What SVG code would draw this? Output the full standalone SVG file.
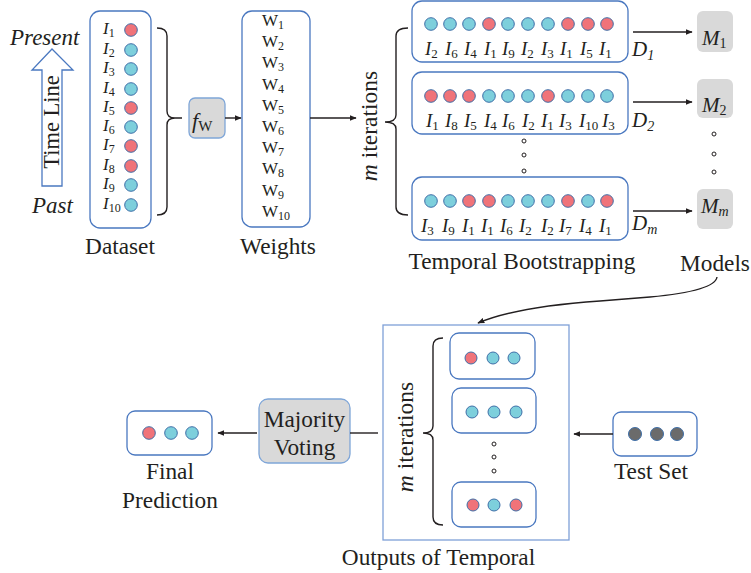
<svg xmlns="http://www.w3.org/2000/svg" width="751" height="573" viewBox="0 0 751 573">
<style>
text{font-family:"Liberation Serif","Times New Roman",serif;fill:#231F20}
.lbl{font-size:23.3px}
.it{font-style:italic}
.box{fill:#fff;stroke:#4A78C0;stroke-width:1.3}
.gbox{fill:#D9D9D9;stroke:#7FA6D8;stroke-width:1.3}
.mbox{fill:#D9D9D9;stroke:none}
.r{fill:#F07379;stroke:#3F6FA8;stroke-width:1}
.c{fill:#7DCFDC;stroke:#3F6FA8;stroke-width:1}
.g{fill:#6B6B6B;stroke:#3F6FA8;stroke-width:1}
.dot{fill:#fff;stroke:#231F20;stroke-width:1}
.ln{fill:none;stroke:#231F20;stroke-width:1.4}
.il{font-size:17px;font-style:italic}
.rl{font-size:19px;font-style:italic}
.dl{font-size:21px;font-style:italic}
.sub{font-size:12px;font-style:normal}
.sub2{font-size:13px;font-style:normal}
.subi{font-size:14px;font-style:italic}
.subn{font-size:14px;font-style:normal}
</style>
<defs>
<marker id="ah" viewBox="0 0 10 10" refX="9" refY="5" markerWidth="7" markerHeight="7" orient="auto" markerUnits="userSpaceOnUse">
<path d="M0,1 L10,5 L0,9 Z" fill="#231F20"/>
</marker>
</defs>

<g id="timeline">
<path d="M42,186 L42,70 L32,70 L52,49 L73,70 L62,70 L62,186 Z" fill="#fff" stroke="#4A78C0" stroke-width="1.3"/>
<text transform="translate(59,122) rotate(-90)" font-size="22.5" text-anchor="middle">Time Line</text>
<text class="it" x="10" y="45" font-size="23">Present</text>
<text class="it" x="32" y="213" font-size="23">Past</text>
</g>

<g id="dataset">
<rect class="box" x="90" y="11" width="61" height="217" rx="10"/>
<circle class="r" cx="131" cy="30" r="6.3"/>
<circle class="c" cx="131" cy="50" r="6.3"/>
<circle class="c" cx="131" cy="69" r="6.3"/>
<circle class="c" cx="131" cy="89" r="6.3"/>
<circle class="r" cx="131" cy="108" r="6.3"/>
<circle class="c" cx="131" cy="127" r="6.3"/>
<circle class="r" cx="131" cy="146" r="6.3"/>
<circle class="r" cx="131" cy="166" r="6.3"/>
<circle class="c" cx="131" cy="185" r="6.3"/>
<circle class="c" cx="131" cy="205" r="6.3"/>
<text class="il" x="103" y="34">I<tspan class="sub" dy="3">1</tspan></text>
<text class="il" x="103" y="54">I<tspan class="sub" dy="3">2</tspan></text>
<text class="il" x="103" y="73">I<tspan class="sub" dy="3">3</tspan></text>
<text class="il" x="103" y="93">I<tspan class="sub" dy="3">4</tspan></text>
<text class="il" x="103" y="112">I<tspan class="sub" dy="3">5</tspan></text>
<text class="il" x="103" y="131">I<tspan class="sub" dy="3">6</tspan></text>
<text class="il" x="103" y="150">I<tspan class="sub" dy="3">7</tspan></text>
<text class="il" x="103" y="170">I<tspan class="sub" dy="3">8</tspan></text>
<text class="il" x="103" y="189">I<tspan class="sub" dy="3">9</tspan></text>
<text class="il" x="103" y="209">I<tspan class="sub" dy="3">10</tspan></text>
<text class="lbl" x="120" y="254" text-anchor="middle">Dataset</text>
</g>

<g id="fw">
<rect class="gbox" x="189" y="98" width="36" height="40" rx="6"/>
<text x="192" y="128" font-size="22" class="it">f<tspan font-size="15" style="font-style:normal" dy="3">W</tspan></text>
</g>

<g id="weights">
<rect class="box" x="242" y="11" width="68" height="216" rx="10"/>
<g font-size="17">
<text x="262" y="26">W<tspan class="sub" dy="3">1</tspan></text>
<text x="262" y="47">W<tspan class="sub" dy="3">2</tspan></text>
<text x="262" y="68">W<tspan class="sub" dy="3">3</tspan></text>
<text x="262" y="90">W<tspan class="sub" dy="3">4</tspan></text>
<text x="262" y="111">W<tspan class="sub" dy="3">5</tspan></text>
<text x="262" y="132">W<tspan class="sub" dy="3">6</tspan></text>
<text x="262" y="153">W<tspan class="sub" dy="3">7</tspan></text>
<text x="262" y="174">W<tspan class="sub" dy="3">8</tspan></text>
<text x="262" y="196">W<tspan class="sub" dy="3">9</tspan></text>
<text x="262" y="217">W<tspan class="sub" dy="3">10</tspan></text>
</g>
<text class="lbl" x="278" y="254" text-anchor="middle">Weights</text>
</g>

<g id="iter1">
<text transform="translate(377,126) rotate(-90)" font-size="23.5" text-anchor="middle"><tspan class="it">m</tspan> iterations</text>
</g>

<g id="boot1">
<rect class="box" x="412" y="1" width="216" height="61" rx="10"/>
<circle class="c" cx="431" cy="24" r="6.3"/><circle class="c" cx="450" cy="24" r="6.3"/><circle class="c" cx="469" cy="24" r="6.3"/><circle class="r" cx="489" cy="24" r="6.3"/><circle class="c" cx="508" cy="24" r="6.3"/><circle class="c" cx="528" cy="24" r="6.3"/><circle class="c" cx="548" cy="24" r="6.3"/><circle class="r" cx="568" cy="24" r="6.3"/><circle class="r" cx="588" cy="24" r="6.3"/><circle class="r" cx="607" cy="24" r="6.3"/>
<text class="rl" x="425" y="55">I<tspan class="sub2" dy="3">2</tspan></text>
<text class="rl" x="445" y="55">I<tspan class="sub2" dy="3">6</tspan></text>
<text class="rl" x="464" y="55">I<tspan class="sub2" dy="3">4</tspan></text>
<text class="rl" x="484" y="55">I<tspan class="sub2" dy="3">1</tspan></text>
<text class="rl" x="502" y="55">I<tspan class="sub2" dy="3">9</tspan></text>
<text class="rl" x="521" y="55">I<tspan class="sub2" dy="3">2</tspan></text>
<text class="rl" x="541" y="55">I<tspan class="sub2" dy="3">3</tspan></text>
<text class="rl" x="560" y="55">I<tspan class="sub2" dy="3">1</tspan></text>
<text class="rl" x="580" y="55">I<tspan class="sub2" dy="3">5</tspan></text>
<text class="rl" x="599" y="55">I<tspan class="sub2" dy="3">1</tspan></text>
<text class="dl" x="632" y="56">D<tspan class="subi" dy="4">1</tspan></text>
</g>

<g id="boot2">
<rect class="box" x="412" y="72" width="216" height="62" rx="10"/>
<circle class="r" cx="431" cy="96" r="6.3"/><circle class="r" cx="450" cy="96" r="6.3"/><circle class="r" cx="469" cy="96" r="6.3"/><circle class="c" cx="489" cy="96" r="6.3"/><circle class="c" cx="508" cy="96" r="6.3"/><circle class="c" cx="528" cy="96" r="6.3"/><circle class="r" cx="548" cy="96" r="6.3"/><circle class="c" cx="568" cy="96" r="6.3"/><circle class="c" cx="588" cy="96" r="6.3"/><circle class="c" cx="607" cy="96" r="6.3"/>
<text class="rl" x="426" y="127">I<tspan class="sub2" dy="3">1</tspan></text>
<text class="rl" x="445" y="127">I<tspan class="sub2" dy="3">8</tspan></text>
<text class="rl" x="464" y="127">I<tspan class="sub2" dy="3">5</tspan></text>
<text class="rl" x="484" y="127">I<tspan class="sub2" dy="3">4</tspan></text>
<text class="rl" x="502" y="127">I<tspan class="sub2" dy="3">6</tspan></text>
<text class="rl" x="522" y="127">I<tspan class="sub2" dy="3">2</tspan></text>
<text class="rl" x="541" y="127">I<tspan class="sub2" dy="3">1</tspan></text>
<text class="rl" x="559" y="127">I<tspan class="sub2" dy="3">3</tspan></text>
<text class="rl" x="579" y="127">I<tspan class="sub2" dy="3">10</tspan></text>
<text class="rl" x="602" y="127">I<tspan class="sub2" dy="3">3</tspan></text>
<text class="dl" x="632" y="127">D<tspan class="subi" dy="4">2</tspan></text>
</g>

<g id="bootdots">
<circle class="dot" cx="524" cy="141" r="2"/><circle class="dot" cx="524" cy="155" r="2"/><circle class="dot" cx="524" cy="171" r="2"/>
</g>

<g id="bootm">
<rect class="box" x="412" y="177" width="216" height="63" rx="10"/>
<circle class="c" cx="431" cy="201" r="6.3"/><circle class="c" cx="450" cy="201" r="6.3"/><circle class="r" cx="469" cy="201" r="6.3"/><circle class="r" cx="489" cy="201" r="6.3"/><circle class="c" cx="508" cy="201" r="6.3"/><circle class="c" cx="528" cy="201" r="6.3"/><circle class="c" cx="548" cy="201" r="6.3"/><circle class="r" cx="568" cy="201" r="6.3"/><circle class="c" cx="588" cy="201" r="6.3"/><circle class="r" cx="607" cy="201" r="6.3"/>
<text class="rl" x="421" y="232">I<tspan class="sub2" dy="3">3</tspan></text>
<text class="rl" x="442" y="232">I<tspan class="sub2" dy="3">9</tspan></text>
<text class="rl" x="462" y="232">I<tspan class="sub2" dy="3">1</tspan></text>
<text class="rl" x="481" y="232">I<tspan class="sub2" dy="3">1</tspan></text>
<text class="rl" x="500" y="232">I<tspan class="sub2" dy="3">6</tspan></text>
<text class="rl" x="519" y="232">I<tspan class="sub2" dy="3">2</tspan></text>
<text class="rl" x="541" y="232">I<tspan class="sub2" dy="3">2</tspan></text>
<text class="rl" x="559" y="232">I<tspan class="sub2" dy="3">7</tspan></text>
<text class="rl" x="579" y="232">I<tspan class="sub2" dy="3">4</tspan></text>
<text class="rl" x="599" y="232">I<tspan class="sub2" dy="3">1</tspan></text>
<text class="dl" x="632" y="230">D<tspan class="subi" dy="4">m</tspan></text>
<text class="lbl" x="522" y="269" text-anchor="middle">Temporal Bootstrapping</text>
</g>

<g id="m1">
<rect class="mbox" x="697" y="11" width="36" height="41" rx="6"/>
<text class="dl" x="702" y="45">M<tspan class="subn" dy="3">1</tspan></text>
</g>
<g id="m2">
<rect class="mbox" x="697" y="79" width="36" height="39" rx="6"/>
<text class="dl" x="702" y="112">M<tspan class="subn" dy="3">2</tspan></text>
</g>
<g id="mdots">
<circle class="dot" cx="714" cy="134" r="2"/><circle class="dot" cx="714" cy="154" r="2"/><circle class="dot" cx="714" cy="172" r="2"/>
</g>
<g id="mm">
<rect class="mbox" x="697" y="189" width="36" height="40" rx="6"/>
<text class="dl" x="701" y="213">M<tspan class="subi" dy="3">m</tspan></text>
<text class="lbl" x="715" y="271" text-anchor="middle">Models</text>
</g>

<g id="outputs">
<rect x="383" y="325" width="186" height="215" fill="#fff" stroke="#7FA0D8" stroke-width="1.3"/>
<text transform="translate(413,437) rotate(-90)" font-size="23.5" text-anchor="middle"><tspan class="it">m</tspan> iterations</text>
<rect class="box" x="450" y="333" width="85" height="46" rx="9"/>
<circle class="r" cx="471" cy="358" r="6"/><circle class="c" cx="493" cy="358" r="6"/><circle class="c" cx="514" cy="358" r="6"/>
<rect class="box" x="452" y="388" width="84" height="45" rx="9"/>
<circle class="c" cx="472" cy="412" r="6"/><circle class="c" cx="494" cy="412" r="6"/><circle class="c" cx="516" cy="412" r="6"/>
<circle class="dot" cx="494" cy="444" r="2"/><circle class="dot" cx="494" cy="457" r="2"/><circle class="dot" cx="494" cy="471" r="2"/>
<rect class="box" x="452" y="482" width="84" height="45" rx="9"/>
<circle class="r" cx="473" cy="505" r="6"/><circle class="c" cx="494" cy="505" r="6"/><circle class="r" cx="516" cy="505" r="6"/>
<text class="lbl" x="438.5" y="565" text-anchor="middle">Outputs of Temporal</text>
</g>

<g id="majority">
<rect class="gbox" x="259" y="399" width="91" height="64" rx="9"/>
<text class="lbl" x="304.5" y="427" text-anchor="middle">Majority</text>
<text class="lbl" x="304.5" y="455" text-anchor="middle">Voting</text>
</g>

<g id="final">
<rect class="box" x="127" y="411" width="85" height="44" rx="8"/>
<circle class="r" cx="149" cy="433" r="6.3"/><circle class="c" cx="171" cy="433" r="6.3"/><circle class="c" cx="192" cy="433" r="6.3"/>
<text class="lbl" x="170" y="479" text-anchor="middle">Final</text>
<text class="lbl" x="170" y="508" text-anchor="middle">Prediction</text>
</g>

<g id="testset">
<rect class="box" x="613" y="412" width="84" height="44" rx="8"/>
<circle class="g" cx="635" cy="434" r="6.5"/><circle class="g" cx="657" cy="434" r="6.5"/><circle class="g" cx="677" cy="434" r="6.5"/>
<text class="lbl" x="651" y="479" text-anchor="middle">Test Set</text>
</g>

<g id="connectors">
<path class="ln" d="M157,28 Q167,28 167,36 L167,111 Q167,118 175,118 L182,118 M175,118 Q167,118 167,125 L167,207 Q167,215 157,215"/>
<line class="ln" x1="225" y1="118" x2="241" y2="118" marker-end="url(#ah)"/>
<line class="ln" x1="310" y1="118" x2="356" y2="118" marker-end="url(#ah)"/>
<path class="ln" d="M408,28 Q396,28 396,36 L396,115 Q396,122 385,122 Q396,122 396,129 L396,207 Q396,215 408,215"/>
<line class="ln" x1="633" y1="32" x2="692" y2="32" marker-end="url(#ah)"/>
<line class="ln" x1="633" y1="102" x2="692" y2="102" marker-end="url(#ah)"/>
<line class="ln" x1="633" y1="211" x2="692" y2="211" marker-end="url(#ah)"/>
<path class="ln" d="M717,277 Q715,291 650,297 L600,301 Q515,307 478,323" marker-end="url(#ah)"/>
<path class="ln" d="M443,338 Q433,338 433,346 L433,426 Q433,433 423,433 Q433,433 433,440 L433,517 Q433,525 443,525"/>
<line class="ln" x1="350" y1="433" x2="378" y2="433"/>
<line class="ln" x1="257" y1="433" x2="218" y2="433" marker-end="url(#ah)"/>
<line class="ln" x1="613" y1="434" x2="574" y2="434" marker-end="url(#ah)"/>
</g>
</svg>
